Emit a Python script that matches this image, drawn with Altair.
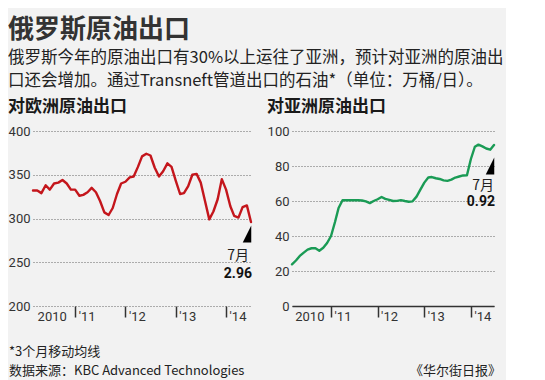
import altair as alt
import pandas as pd

# ---------------- data ----------------
months = pd.date_range("2010-03-01", "2014-07-01", freq="MS")

europe = [332, 332, 329, 338, 333, 340, 341, 344, 340, 333,
          333, 326, 327, 330, 335, 330, 320, 307, 304, 312, 328, 340,
          342, 347, 348, 359, 371, 374, 372, 358, 348, 354, 363, 359,
          343, 328, 329, 337, 350, 351, 341, 320, 299, 308, 322, 345,
          333, 314, 303, 301, 313, 315, 296]

asia = [23.8, 26, 28.6, 30.5, 32.2, 33, 33, 31.6, 33.3, 36,
        40, 48, 56, 60.4, 60.4, 60.4, 60.4, 60.4, 60.3, 59.8, 58.8, 60,
        61, 62.3, 61.2, 60.6, 60, 60.1, 60.5, 60, 59.6, 59.8, 62.5, 66.5,
        70.5, 73.4, 73.7, 73, 72.6, 71.8, 71.5, 72.2, 73.4, 74, 74.6, 74.7,
        84, 91, 92.2, 91.2, 90, 89.3, 92]

europe_ticks = [200, 250, 300, 350, 400]
asia_ticks = [0, 20, 40, 60, 80, 100]
year_ticks = [(2010, 7, 15), (2011, 1, 1), (2012, 1, 1), (2013, 1, 1), (2014, 1, 1)]

main_title = "俄罗斯原油出口"
subtitle = ["俄罗斯今年的原油出口有30%以上运往了亚洲，预计对亚洲的原油出",
            "口还会增加。通过Transneft管道出口的石油*（单位：万桶/日）。"]
europe_title = "对欧洲原油出口"
asia_title = "对亚洲原油出口"
last_month_label = "7月"
europe_last_label = "2.96"
asia_last_label = "0.92"
footnote = "*3个月移动均线"
source = "数据来源：KBC Advanced Technologies"
credit = "《华尔街日报》"

# ---------------- style ----------------
CJK = "Noto Sans CJK SC"
NUM = "Roboto"
RED = "#c4161c"
GREEN = "#1a9b55"
TXT = "#333333"
H = 175
WL = 218
WR = 202
TRI = "M 0.5 -1 L 0.5 1 L -0.5 1 Z"

df = pd.DataFrame({"date": months, "europe": europe, "asia": asia})
last_df = df.tail(1).copy()
last_df["month_label"] = last_month_label
last_df["eu_label"] = europe_last_label
last_df["as_label"] = asia_last_label
foot_df = pd.DataFrame({"t": [footnote], "s": [source], "c": [credit]})

jan = "month(datum.value) == 0"


def x_axis(show_domain):
    return alt.Axis(
        values=[alt.DateTime(year=y, month=m, date=d) for (y, m, d) in year_ticks],
        labelExpr="month(datum.value) == 0 ? timeFormat(datum.value, \"'%y\") : timeFormat(datum.value, '%Y')",
        title=None, grid=False,
        domain=show_domain, domainColor=TXT, domainWidth=1.5,
        tickSize=11, tickWidth=1.5, tickColor=TXT,
        tickOpacity={"condition": {"test": jan, "value": 1}, "value": 0},
        labelAlign={"condition": {"test": jan, "value": "left"}, "value": "center"},
        labelOffset={"condition": {"test": jan, "value": 3}, "value": 0},
        labelPadding=-7, labelFont=NUM, labelFontSize=13, labelColor=TXT,
        labelBaseline="top", labelFlush=False, labelOverlap=False, labelBound=False,
    )


def y_axis(vals):
    return alt.Axis(values=vals, title=None, domain=False, ticks=False, grid=True,
                    gridDash=[1, 2], gridColor="#666666", gridWidth=1,
                    labelPadding=3, labelFont=NUM, labelFontSize=13, labelColor=TXT)


xscale = alt.Scale(domain=[alt.DateTime(year=2010, month=3, date=1),
                           alt.DateTime(year=2014, month=7, date=1)], nice=False)


def panel(field, color, ydom, yvals, width, title, last_label, tri_dy, t1_dy, t2_dy, dx1):
    x = alt.X("date:T", scale=xscale, axis=x_axis(field == "asia"))
    y = alt.Y(f"{field}:Q", scale=alt.Scale(domain=ydom, nice=False, zero=False), axis=y_axis(yvals))
    line = alt.Chart(df).mark_line(color=color, strokeWidth=2.4, strokeJoin="round",
                                   strokeCap="round").encode(x=x, y=y)
    tri = alt.Chart(last_df).mark_point(shape=TRI, filled=True, color="#000000", opacity=1,
                                        size=289, strokeWidth=0, xOffset=-4,
                                        yOffset=tri_dy).encode(x=x, y=y)
    t1 = alt.Chart(last_df).mark_text(align="right", baseline="middle", dy=t1_dy, dx=dx1,
                                      font=CJK, fontSize=14, color="#222222").encode(
        x=x, y=y, text="month_label:N")
    t2 = alt.Chart(last_df).mark_text(align="right", baseline="middle", dy=t2_dy, dx=1,
                                      font=NUM, fontSize=14, fontWeight="bold",
                                      color="#111111").encode(x=x, y=y, text=f"{last_label}:N")
    return alt.layer(line, tri, t1, t2).properties(
        width=width, height=H,
        title=alt.TitleParams(text=title, anchor="start", frame="bounds", font=CJK,
                              fontSize=17, fontWeight="bold", color="#1a1a1a", offset=9))


left = panel("europe", RED, [200, 400], europe_ticks, WL, europe_title, "eu_label", 12, 34, 52, -2)
right = panel("asia", GREEN, [0, 100], asia_ticks, WR, asia_title, "as_label", 21, 41, 57, 0)

foot1 = alt.Chart(foot_df).mark_text(align="left", baseline="middle", font=CJK, fontSize=13,
                                     color="#222222").encode(
    x=alt.value(-24), y=alt.value(221), text="t:N")
foot2 = alt.Chart(foot_df).mark_text(align="left", baseline="middle", font=CJK, fontSize=13,
                                     color="#222222").encode(
    x=alt.value(-24), y=alt.value(240), text="s:N")
foot3 = alt.Chart(foot_df).mark_text(align="right", baseline="middle", font=CJK, fontSize=13,
                                     color="#222222").encode(
    x=alt.value(WR + 7), y=alt.value(240), text="c:N")

left = alt.layer(left, foot1, foot2)
right = alt.layer(right, foot3)

chart = alt.hconcat(left, right, spacing=14).properties(
    title=alt.TitleParams(text=main_title, subtitle=subtitle, anchor="start", frame="bounds",
                          font=CJK, fontSize=26, fontWeight="bold", color=TXT,
                          subtitleFont=CJK, subtitleFontSize=16.5, subtitleColor="#222222",
                          subtitleLineHeight=22.5, subtitlePadding=7, offset=9),
    padding={"left": 0, "top": 9, "right": 2, "bottom": 3},
    background="#f2f2f2",
).configure_view(stroke=None)

chart.save("out.html", embed_options={"renderer": "svg", "actions": False})
